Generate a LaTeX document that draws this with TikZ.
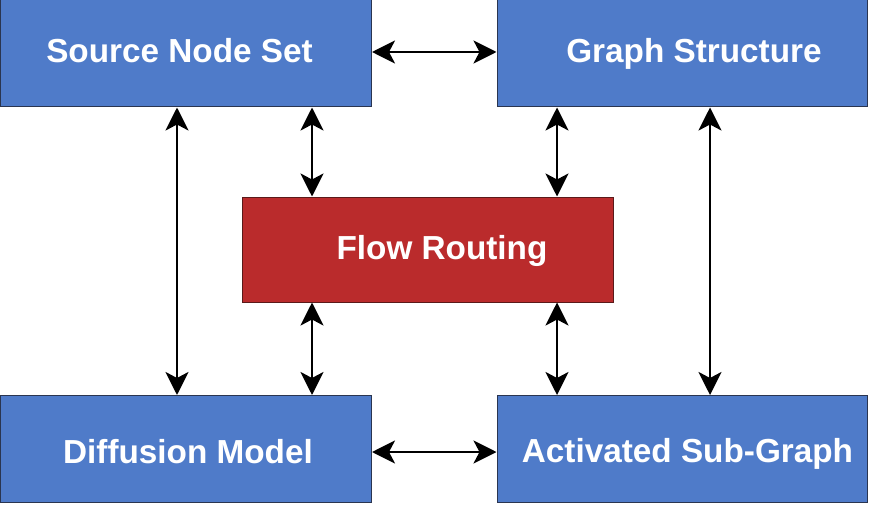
\documentclass[tikz,border=0pt]{standalone}
\usepackage{fontspec}
\setmainfont{Liberation Sans}
\usetikzlibrary{arrows.meta}
\definecolor{boxblue}{HTML}{4F7BC9}
\definecolor{boxred}{HTML}{BA2B2C}
\definecolor{edgeblue}{HTML}{2A3550}
\definecolor{edgered}{HTML}{5A1A1A}
\begin{document}
\begin{tikzpicture}[x=1pt,y=-1pt,
  box/.style={draw=edgeblue,fill=boxblue,line width=1pt,inner sep=0pt,
    minimum width=370pt,minimum height=107pt},
  redbox/.style={box,draw=edgered,fill=boxred,minimum width=371pt,minimum height=105pt},
  txt/.style={anchor=base,inner sep=0pt,text=white,
    font=\fontsize{33.3}{40}\selectfont\bfseries},
  arr/.style={line width=2.8pt,{Stealth[length=23pt,width=23pt,inset=6pt]}-{Stealth[length=23pt,width=23pt,inset=6pt]}}]
\useasboundingbox (0,0) rectangle (872,505);
\node[box,minimum width=371pt] (sns) at (186,53.5) {};
\node[box] (gs) at (682,53.5) {};
\node[redbox] (fr) at (427.5,249.5) {};
\node[box,minimum width=371pt] (dm) at (186,449) {};
\node[box] (as) at (682,449) {};
\node[txt] (snsT) at (179.5,63) {Source Node Set};
\node[txt] (gsT) at (694,63) {Graph Structure};
\node[txt] (frT) at (442,259) {Flow Routing};
\node[txt] (dmT) at (188,463) {Diffusion Model};
\node[txt] (asT) at (687.5,462) {Activated Sub-Graph};
\draw[arr] (sns.east |- 0,52) -- (gs.west |- 0,52);
\draw[arr] (dm.east |- 0,452) -- (as.west |- 0,452);
\draw[arr] (177,0 |- sns.south) -- (177,0 |- dm.north);
\draw[arr] (312,0 |- sns.south) -- (312,0 |- fr.north);
\draw[arr] (312,0 |- fr.south) -- (312,0 |- dm.north);
\draw[arr] (557,0 |- gs.south) -- (557,0 |- fr.north);
\draw[arr] (557,0 |- fr.south) -- (557,0 |- as.north);
\draw[arr] (710,0 |- gs.south) -- (710,0 |- as.north);
\end{tikzpicture}
\end{document}
